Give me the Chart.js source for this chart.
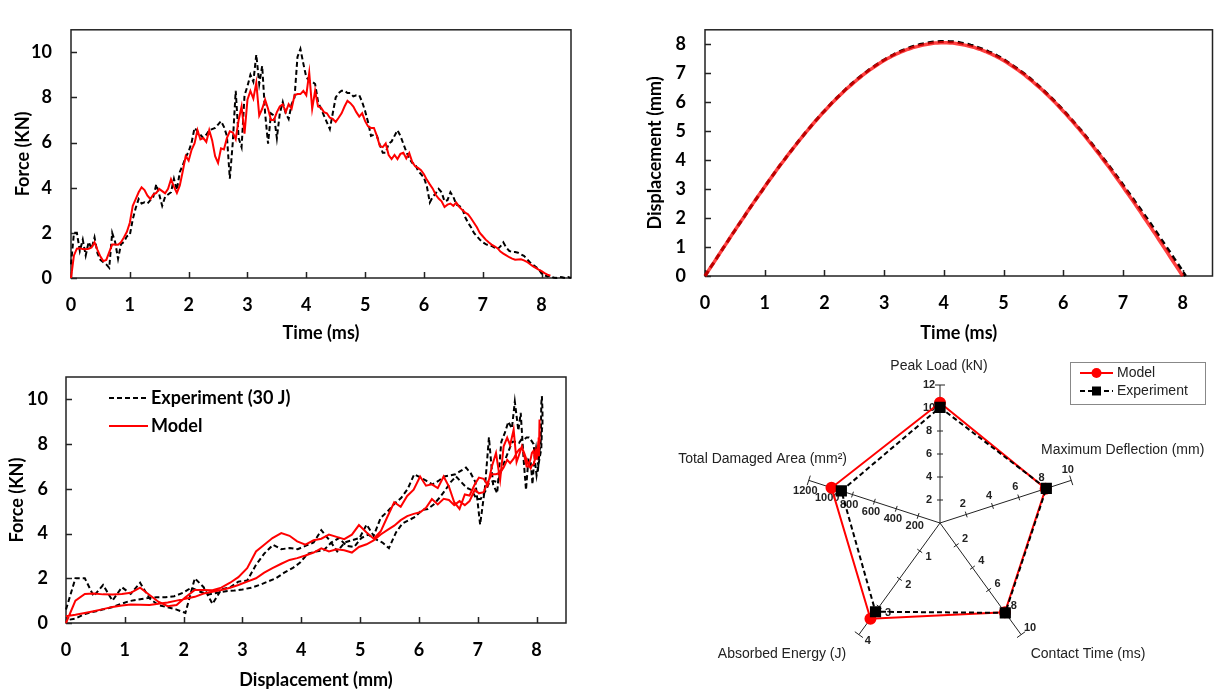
<!DOCTYPE html>
<html>
<head>
<meta charset="utf-8">
<title>Impact response</title>
<script src="https://cdn.jsdelivr.net/npm/chart.js@4/dist/chart.umd.min.js"></script>
<style>
  html, body { margin: 0; padding: 0; background: #fff; }
  body { width: 1215px; height: 692px; position: relative; overflow: hidden; }
  .panel { position: absolute; }
</style>
</head>
<body>
<div class="panel" style="left:0;top:0;width:600px;height:345px"><canvas id="forceTime"></canvas></div>
<div class="panel" style="left:600px;top:0;width:615px;height:345px"><canvas id="dispTime"></canvas></div>
<div class="panel" style="left:0;top:345px;width:600px;height:347px"><canvas id="forceDisp"></canvas></div>
<div class="panel" style="left:640px;top:345px;width:575px;height:347px"><canvas id="radar"></canvas></div>
<script>
// sampling interval of the recorded signals (ms)
const TIME_STEP_MS = 0.05;

// contact force, kN, one value per time step
const forceExperiment = [
  0.6, 2.0, 2.0, 1.2, 1.7, 1.0, 1.6, 1.3, 1.8, 1.1,
  0.8, 0.7, 0.6, 0.45, 2.0, 1.6, 0.85, 1.5, 1.6, 1.85,
  1.9, 2.6, 3.1, 3.5, 3.3, 3.35, 3.3, 3.45, 3.6, 4.15,
  3.7, 3.2, 3.6, 3.7, 3.8, 4.4, 3.9, 4.7, 5.0, 5.35,
  5.6, 6.0, 6.65, 6.5, 6.35, 6.2, 6.35, 6.55, 6.6, 6.65,
  6.8, 6.95, 6.7, 6.3, 4.4, 6.0, 8.3, 6.2, 5.8, 8.1,
  8.5, 9.0, 8.7, 9.9, 8.6, 9.4, 7.3, 5.95, 7.3, 7.2,
  6.2, 7.3, 7.8, 7.3, 7.05, 7.7, 8.0, 9.8, 10.15, 9.5,
  8.9, 8.75, 8.7, 8.6, 7.8, 7.5, 7.2, 6.9, 6.6, 7.3,
  8.0, 8.2, 8.3, 8.3, 8.2, 8.2, 8.05, 8.1, 8.1, 7.8,
  7.4, 6.9, 6.3, 6.35, 6.3, 5.9, 5.55, 5.55, 5.95, 6.05,
  6.3, 6.55, 6.3, 5.95, 5.6, 5.3, 5.1, 5.05, 4.75, 4.6,
  4.45, 4.05, 3.35, 3.6, 3.75, 3.95, 3.8, 3.4, 3.45, 3.8,
  3.6, 3.25, 3.2, 3.1, 2.7, 2.45, 2.25, 2.0, 1.85, 1.7,
  1.58, 1.5, 1.45, 1.42, 1.35, 1.28, 1.4, 1.58, 1.35, 1.2,
  1.15, 1.15, 1.12, 1.05, 0.98, 0.85, 0.7, 0.6, 0.5, 0.4,
  0.2, 0.12, 0.07, 0.1, 0.02, 0.0, 0.05, 0.03, 0.0, 0.04,
  0.0
];
const forceModel = [
  0.0, 1.0, 1.3, 1.32, 1.28, 1.27, 1.3, 1.35, 1.58, 1.25,
  0.95, 0.75, 0.8, 1.15, 1.48, 1.48, 1.47, 1.58, 1.8, 2.05,
  2.45, 3.2, 3.5, 3.8, 4.02, 3.9, 3.65, 3.5, 3.7, 3.77,
  3.95, 3.85, 3.75, 3.95, 4.38, 4.05, 3.77, 4.1, 4.73, 5.4,
  5.2, 5.68, 5.96, 6.55, 6.14, 6.2, 6.03, 6.55, 6.1, 5.4,
  5.1, 5.75, 5.7, 6.2, 6.5, 6.45, 6.15, 7.0, 7.6, 6.4,
  7.9, 8.29, 7.95, 8.65, 7.2, 7.5, 7.9, 7.5, 7.0, 7.0,
  7.35, 7.6, 7.7, 7.35, 7.7, 7.5, 8.1, 8.15, 8.15, 8.29,
  8.1, 9.1, 7.5, 8.3, 7.6, 7.55, 7.35, 7.3, 7.1, 7.05,
  6.92, 7.1, 7.3, 7.6, 7.85, 7.75, 7.6, 7.35, 7.15, 7.3,
  6.95, 6.72, 6.65, 6.65, 6.3, 5.85, 5.8, 5.96, 5.45, 5.27,
  5.45, 5.27, 5.5, 5.55, 5.3, 5.54, 5.15, 4.95, 4.88, 4.78,
  4.6, 4.35, 4.15, 3.96, 3.69, 3.52, 3.4, 3.15, 3.25, 3.3,
  3.2, 3.34, 3.15, 3.02, 2.9, 2.82, 2.65, 2.45, 2.25, 2.0,
  1.85, 1.7, 1.58, 1.48, 1.4, 1.32, 1.17, 1.08, 1.0, 0.92,
  0.86, 0.81, 0.82, 0.83, 0.78, 0.72, 0.62, 0.53, 0.45, 0.37,
  0.3, 0.22, 0.15, 0.1
];

// impactor displacement, mm, same time steps (ends once the impactor has left)
const dispExperiment = [
  0, 0.16, 0.32, 0.47, 0.63, 0.79, 0.95, 1.10, 1.26, 1.42,
  1.57, 1.73, 1.88, 2.03, 2.19, 2.34, 2.49, 2.64, 2.79, 2.93,
  3.08, 3.23, 3.37, 3.52, 3.66, 3.80, 3.94, 4.07, 4.21, 4.34,
  4.48, 4.61, 4.74, 4.86, 4.99, 5.11, 5.23, 5.35, 5.47, 5.59,
  5.70, 5.81, 5.92, 6.03, 6.13, 6.23, 6.33, 6.43, 6.53, 6.62,
  6.71, 6.80, 6.88, 6.96, 7.04, 7.12, 7.19, 7.26, 7.33, 7.40,
  7.46, 7.52, 7.58, 7.63, 7.69, 7.73, 7.78, 7.82, 7.86, 7.90,
  7.93, 7.96, 7.99, 8.01, 8.03, 8.05, 8.07, 8.08, 8.09, 8.10,
  8.10, 8.10, 8.09, 8.09, 8.08, 8.06, 8.04, 8.02, 8.00, 7.97,
  7.95, 7.90, 7.87, 7.83, 7.79, 7.74, 7.70, 7.65, 7.59, 7.54,
  7.48, 7.41, 7.34, 7.27, 7.20, 7.13, 7.05, 6.98, 6.89, 6.81,
  6.72, 6.63, 6.54, 6.45, 6.35, 6.25, 6.15, 6.05, 5.94, 5.83,
  5.72, 5.61, 5.49, 5.38, 5.26, 5.14, 5.02, 4.90, 4.77, 4.64,
  4.51, 4.38, 4.25, 4.11, 3.98, 3.85, 3.71, 3.57, 3.43, 3.29,
  3.15, 3.00, 2.86, 2.72, 2.57, 2.43, 2.28, 2.13, 1.99, 1.84,
  1.69, 1.54, 1.39, 1.23, 1.08, 0.93, 0.78, 0.62, 0.47, 0.32,
  0.16, 0
];
const dispModel = [
  0, 0.16, 0.32, 0.47, 0.63, 0.79, 0.95, 1.10, 1.26, 1.42,
  1.57, 1.73, 1.88, 2.03, 2.19, 2.34, 2.49, 2.64, 2.79, 2.93,
  3.08, 3.23, 3.37, 3.51, 3.66, 3.80, 3.93, 4.07, 4.21, 4.34,
  4.47, 4.60, 4.73, 4.86, 4.98, 5.11, 5.23, 5.35, 5.46, 5.58,
  5.69, 5.80, 5.91, 6.02, 6.12, 6.22, 6.32, 6.42, 6.51, 6.60,
  6.69, 6.78, 6.86, 6.95, 7.02, 7.10, 7.17, 7.24, 7.31, 7.38,
  7.44, 7.50, 7.55, 7.61, 7.66, 7.70, 7.75, 7.79, 7.83, 7.86,
  7.90, 7.92, 7.95, 7.97, 7.99, 8.01, 8.03, 8.04, 8.04, 8.05,
  8.05, 8.05, 8.04, 8.04, 8.03, 8.01, 7.99, 7.97, 7.95, 7.92,
  7.90, 7.86, 7.83, 7.79, 7.75, 7.70, 7.66, 7.61, 7.55, 7.50,
  7.44, 7.38, 7.31, 7.24, 7.17, 7.10, 7.02, 6.95, 6.86, 6.78,
  6.69, 6.60, 6.51, 6.42, 6.32, 6.22, 6.12, 6.02, 5.91, 5.80,
  5.69, 5.58, 5.46, 5.35, 5.23, 5.11, 4.98, 4.86, 4.73, 4.60,
  4.47, 4.34, 4.21, 4.07, 3.93, 3.80, 3.66, 3.51, 3.37, 3.23,
  3.08, 2.93, 2.79, 2.64, 2.49, 2.34, 2.19, 2.03, 1.88, 1.73,
  1.57, 1.42, 1.26, 1.10, 0.95, 0.79, 0.63, 0.47, 0.32, 0.16,
  0
];

const timeMs = forceExperiment.map((_, i) => Math.round(i * TIME_STEP_MS * 100) / 100);

// summary indicators, each on its own axis range
const radarAxes = ['Peak Load (kN)', 'Maximum Deflection (mm)', 'Contact Time (ms)', 'Absorbed Energy (J)', 'Total Damaged Area (mm\u00B2)'];
const radarAxisMax = [12, 10, 10, 4, 1200];
const radarAxisStep = [2, 2, 2, 1, 200];
const radarModel = [10.45, 8.05, 8.0, 3.43, 992];
const radarExperiment = [10.05, 8.1, 8.05, 3.18, 902];

const RED = '#ff0000';
const tickFont = { family: 'Lato', size: 18, weight: 'bold' };
const titleFont = { family: 'Lato', size: 18, weight: 'bold' };
const radarFont = '"Liberation Sans", Arial, sans-serif';

Chart.defaults.color = '#000';
Chart.defaults.font.family = 'Lato';

function linePoints(xs, ys) {
    const pts = [];
    for (let i = 0; i < ys.length; i++) {
        if (xs[i] == null || ys[i] == null) continue;
        pts.push({ x: xs[i], y: ys[i] });
    }
    return pts;
}

// box round the plot area plus short inward tick marks
const framePlugin = {
    id: 'frame',
    beforeDatasetsDraw(chart) {
        const { ctx, chartArea: a, scales } = chart;
        ctx.save();
        ctx.strokeStyle = '#222';
        ctx.lineWidth = 1.5;
        ctx.strokeRect(a.left, a.top, a.right - a.left, a.bottom - a.top);
        ctx.beginPath();
        scales.x.ticks.forEach(t => {
            const px = Math.round(scales.x.getPixelForValue(t.value)) + 0.5;
            ctx.moveTo(px, a.bottom);
            ctx.lineTo(px, a.bottom - 6);
        });
        scales.y.ticks.forEach(t => {
            const py = Math.round(scales.y.getPixelForValue(t.value)) + 0.5;
            ctx.moveTo(a.left, py);
            ctx.lineTo(a.left + 6, py);
        });
        ctx.stroke();
        ctx.restore();
    }
};

function cartesianOptions(o) {
    return {
        responsive: true,
        maintainAspectRatio: false,
        animation: false,
        layout: { padding: o.padding },
        plugins: { legend: { display: false }, tooltip: { enabled: false } },
        elements: { point: { radius: 0 }, line: { tension: 0 } },
        scales: {
            x: {
                type: 'linear',
                min: 0,
                max: o.xMax,
                afterFit: s => { s.height = o.xHeight; },
                grid: { display: false, drawTicks: false },
                border: { display: false },
                ticks: { stepSize: 1, includeBounds: false, padding: 16, maxRotation: 0, font: tickFont, color: '#000' },
                title: { display: true, text: o.xTitle, font: titleFont, color: '#000', padding: { top: 0, bottom: 1 } }
            },
            y: {
                type: 'linear',
                min: 0,
                max: o.yMax,
                afterFit: s => { s.width = o.yWidth; },
                grid: { display: false, drawTicks: false },
                border: { display: false },
                ticks: { stepSize: o.yStep, includeBounds: false, padding: o.yTickPad, font: tickFont, color: '#000' },
                title: { display: true, text: o.yTitle, font: titleFont, color: '#000', padding: { top: o.yTitlePad, bottom: 0 } }
            }
        }
    };
}

function modelLine(data, extra) {
    return Object.assign({ label: 'Model', data: data, showLine: true, borderColor: RED, borderWidth: 2, clip: false }, extra);
}
function experimentLine(data, extra) {
    return Object.assign({ label: 'Experiment (30 J)', data: data, showLine: true, borderColor: '#000', borderWidth: 2, borderDash: [5, 3], clip: false }, extra);
}

// force history
new Chart(document.getElementById('forceTime'), {
    type: 'scatter',
    data: {
        datasets: [
            modelLine(linePoints(timeMs, forceModel)),
            experimentLine(linePoints(timeMs, forceExperiment))
        ]
    },
    options: cartesianOptions({
        padding: { left: 0, top: 11, right: 29, bottom: 0 },
        xMax: 8.5, xHeight: 67, xTitle: 'Time (ms)',
        yMax: 11, yStep: 2, yWidth: 71, yTickPad: 19, yTitle: 'Force (KN)', yTitlePad: 12
    }),
    plugins: [framePlugin]
});

// displacement history
new Chart(document.getElementById('dispTime'), {
    type: 'scatter',
    data: {
        datasets: [
            modelLine(linePoints(timeMs, dispModel), { borderColor: 'rgba(255, 0, 0, 0.75)', borderWidth: 3.5 }),
            experimentLine(linePoints(timeMs, dispExperiment), { borderWidth: 3, borderDash: [6, 4] })
        ]
    },
    options: cartesianOptions({
        padding: { left: 0, top: 9, right: 2.5, bottom: 0 },
        xMax: 8.5, xHeight: 69, xTitle: 'Time (ms)',
        yMax: 8.5, yStep: 1, yWidth: 105, yTickPad: 19, yTitle: 'Displacement (mm)', yTitlePad: 44
    }),
    plugins: [framePlugin]
});

// legend drawn inside the force-displacement plot
const curveLegendPlugin = {
    id: 'curveLegend',
    afterDraw(chart) {
        const ctx = chart.ctx;
        const rows = [
            { ds: chart.data.datasets[1], y: 53 },
            { ds: chart.data.datasets[0], y: 81 }
        ];
        ctx.save();
        ctx.font = 'bold 18px Lato';
        ctx.textBaseline = 'middle';
        ctx.fillStyle = '#000';
        rows.forEach(r => {
            ctx.strokeStyle = r.ds.borderColor;
            ctx.lineWidth = 2;
            ctx.setLineDash(r.ds.borderDash || []);
            ctx.beginPath();
            ctx.moveTo(109, r.y);
            ctx.lineTo(148, r.y);
            ctx.stroke();
            ctx.fillText(r.ds.label, 151, r.y);
        });
        ctx.restore();
    }
};

// force against displacement, loading and unloading
new Chart(document.getElementById('forceDisp'), {
    type: 'scatter',
    data: {
        datasets: [
            modelLine(linePoints(dispModel, forceModel)),
            experimentLine(linePoints(dispExperiment, forceExperiment))
        ]
    },
    options: cartesianOptions({
        padding: { left: 0, top: 32, right: 34, bottom: 0 },
        xMax: 8.5, xHeight: 69, xTitle: 'Displacement (mm)',
        yMax: 11, yStep: 2, yWidth: 66, yTickPad: 18, yTitle: 'Force (KN)', yTitlePad: 6
    }),
    plugins: [framePlugin, curveLegendPlugin]
});

// where each axis name sits, relative to the radar centre
const radarTitleSpots = [
    { dx: -1, dy: -157, align: 'center' },
    { dx: 101, dy: -73, align: 'left' },
    { dx: 148, dy: 131, align: 'center' },
    { dx: -158, dy: 131, align: 'center' },
    { dx: -93, dy: -64, align: 'right' }
];

// per-axis tick marks, end caps, tick labels, axis names and the legend box
const radarAxisPlugin = {
    id: 'radarAxes',
    beforeDatasetsDraw(chart) {
        const scale = chart.scales.r;
        const ctx = chart.ctx;
        const R = scale.drawingArea;
        ctx.save();
        ctx.strokeStyle = '#222';
        ctx.fillStyle = '#222';
        ctx.lineWidth = 1;
        ctx.font = 'bold 11px ' + radarFont;
        ctx.textAlign = 'center';
        ctx.textBaseline = 'middle';
        radarAxisMax.forEach((max, i) => {
            const end = scale.getPointPosition(i, R);
            const ux = (end.x - scale.xCenter) / R;
            const uy = (end.y - scale.yCenter) / R;
            const nx = uy, ny = -ux;
            for (let v = radarAxisStep[i]; v <= max + 1e-9; v += radarAxisStep[i]) {
                const p = scale.getPointPosition(i, scale.getDistanceFromCenterForValue(v / max));
                const half = v >= max - 1e-9 ? 5 : 3;
                ctx.beginPath();
                ctx.moveTo(p.x - nx * half, p.y - ny * half);
                ctx.lineTo(p.x + nx * half, p.y + ny * half);
                ctx.stroke();
                ctx.fillText(String(v), p.x + nx * 11, p.y + ny * 11);
            }
        });
        ctx.restore();
    },
    afterDraw(chart) {
        const scale = chart.scales.r;
        const ctx = chart.ctx;
        ctx.save();
        ctx.fillStyle = '#222';
        ctx.font = '14px ' + radarFont;
        ctx.textBaseline = 'middle';
        chart.data.labels.forEach((name, i) => {
            const s = radarTitleSpots[i];
            ctx.textAlign = s.align;
            ctx.fillText(name, scale.xCenter + s.dx, scale.yCenter + s.dy);
        });

        // legend
        const box = { x: 430, y: 17, w: 135, h: 42 };
        ctx.strokeStyle = '#888';
        ctx.lineWidth = 1;
        ctx.strokeRect(box.x + 0.5, box.y + 0.5, box.w, box.h);
        const rows = [
            { ds: chart.data.datasets[0], y: box.y + 11 },
            { ds: chart.data.datasets[1], y: box.y + 29 }
        ];
        ctx.textAlign = 'left';
        rows.forEach(r => {
            ctx.strokeStyle = r.ds.borderColor;
            ctx.lineWidth = 2;
            ctx.setLineDash(r.ds.borderDash || []);
            ctx.beginPath();
            ctx.moveTo(box.x + 10, r.y);
            ctx.lineTo(box.x + 43, r.y);
            ctx.stroke();
            ctx.setLineDash([]);
            ctx.fillStyle = r.ds.pointBackgroundColor;
            const cx = box.x + 26.5;
            if (r.ds.pointStyle === 'rect') {
                ctx.fillRect(cx - 4.5, r.y - 4.5, 9, 9);
            } else {
                ctx.beginPath();
                ctx.arc(cx, r.y, 5, 0, Math.PI * 2);
                ctx.fill();
            }
            ctx.fillStyle = '#222';
            ctx.fillText(r.ds.label, box.x + 47, r.y);
        });
        ctx.restore();
    }
};

new Chart(document.getElementById('radar'), {
    type: 'radar',
    data: {
        labels: radarAxes,
        datasets: [
            {
                label: 'Model',
                data: radarModel.map((v, i) => v / radarAxisMax[i]),
                order: 1,
                borderColor: RED,
                borderWidth: 2,
                fill: false,
                pointStyle: 'circle',
                pointRadius: 5,
                pointBackgroundColor: RED,
                pointBorderColor: RED
            },
            {
                label: 'Experiment',
                data: radarExperiment.map((v, i) => v / radarAxisMax[i]),
                order: 0,
                borderColor: '#000',
                borderWidth: 2,
                borderDash: [5, 3],
                fill: false,
                pointStyle: 'rect',
                pointRadius: 6.5,
                pointBackgroundColor: '#000',
                pointBorderColor: '#000'
            }
        ]
    },
    options: {
        responsive: true,
        maintainAspectRatio: false,
        animation: false,
        layout: { padding: { left: 162, top: 40, right: 137, bottom: 31 } },
        plugins: { legend: { display: false }, tooltip: { enabled: false } },
        elements: { line: { tension: 0 } },
        scales: {
            r: {
                min: 0,
                max: 1,
                ticks: { display: false },
                grid: { display: false },
                angleLines: { display: true, color: '#222', lineWidth: 1 },
                pointLabels: { display: false }
            }
        }
    },
    plugins: [radarAxisPlugin]
});
</script>
</body>
</html>
